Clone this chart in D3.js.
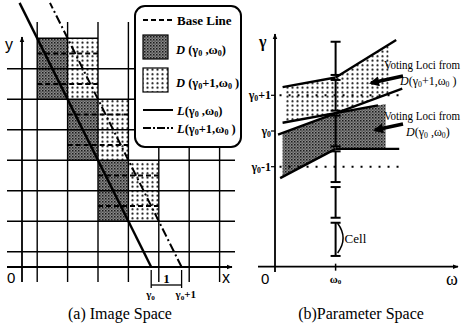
<!DOCTYPE html>
<html>
<head>
<meta charset="utf-8">
<script src="https://cdn.jsdelivr.net/npm/d3@7"></script>
<style>
  body { margin: 0; background: #fff; }
  svg { display: block; }
  text { font-family: "Liberation Serif", "DejaVu Serif", serif; }
  text.sans { font-family: "Liberation Sans", "DejaVu Sans", sans-serif; }
</style>
</head>
<body>
<svg id="chart" width="466" height="324"></svg>
<script>
// ---- (a) image space: grid in pixel units, cells centred on integers
const gridCols = [0.5, 1.5, 2.5, 3.5, 4.5, 5.5, 6.5];
const gridRows = [0.5, 1.5, 2.5, 3.5, 4.5, 5.5, 6.5];
const darkCells = [
  { c0: 0.5, c1: 1.5, r0: 5.5, r1: 7.5 },
  { c0: 1.5, c1: 2.5, r0: 3.5, r1: 5.5 },
  { c0: 2.5, c1: 3.5, r0: 1.5, r1: 3.5 }
];
const dotCells = [
  { c0: 1.5, c1: 2.5, r0: 5.5, r1: 7.5 },
  { c0: 2.5, c1: 3.5, r0: 3.5, r1: 5.5 },
  { c0: 3.5, c1: 4.5, r0: 1.5, r1: 3.5 }
];
const baseLines = [
  { c0: 0.5, c1: 2.5, r: 7 }, { c0: 0.5, c1: 2.5, r: 6 },
  { c0: 1.5, c1: 3.5, r: 5 }, { c0: 1.5, c1: 3.5, r: 4 },
  { c0: 2.5, c1: 4.5, r: 3 }, { c0: 2.5, c1: 4.5, r: 2 }
];
const gamma0 = 4.25;          // x-intercept of L(gamma0, omega0)
const lineRowSpan = [0, 8.66]; // rows the two lines are drawn over

// ---- (b) parameter space: gamma relative to gamma0, omega0 = 2
const omega0 = 2;
const cellBounds = [-3.5, -2.5, -1.5, -0.5, 0.5, 1.5, 2.5];
const gammaTicks = [1, 0, -1];
const gammaAxisAt = -3.8;
const lineA = [[0.25, 1.23], [2, 1.5]];
const lineB = [[2, 1.5], [4.0, 2.55]];
const lineC = [[0.25, 0.23], [3.4, 0.716]];
const lineD = [[0.1, -0.1], [4.2, 1.19]];
const lineE = [[0.17, -1.32], [2, -0.5]];
const lineF = [[2, -0.5], [4.1, -0.5]];

const svg = d3.select("#chart");

// patterns
const defs = svg.append("defs");
const pDark = defs.append("pattern").attr("id", "dark")
  .attr("width", 3).attr("height", 3).attr("patternUnits", "userSpaceOnUse");
pDark.append("rect").attr("width", 3).attr("height", 3).attr("fill", "#8a8a8a");
pDark.append("rect").attr("width", 1.5).attr("height", 1.5).attr("fill", "#1a1a1a");
pDark.append("rect").attr("x", 1.5).attr("y", 1.5).attr("width", 1.2).attr("height", 1.2).attr("fill", "#333");
const pDot = defs.append("pattern").attr("id", "dots")
  .attr("width", 5).attr("height", 4.5).attr("patternUnits", "userSpaceOnUse");
pDot.append("rect").attr("width", 5).attr("height", 4.5).attr("fill", "#fff");
pDot.append("circle").attr("cx", 2.5).attr("cy", 2.2).attr("r", 1.05).attr("fill", "#111");

const arrowHead = defs.append("marker").attr("id", "axArrow")
  .attr("viewBox", "0 0 10 10").attr("refX", 9).attr("refY", 5)
  .attr("markerWidth", 6).attr("markerHeight", 6).attr("markerUnits", "userSpaceOnUse")
  .attr("orient", "auto");
arrowHead.append("path").attr("d", "M0,1 L10,5 L0,9 Z").attr("fill", "#000");

const bigHead = defs.append("marker").attr("id", "bigArrow")
  .attr("viewBox", "0 0 10 10").attr("refX", 8).attr("refY", 5)
  .attr("markerWidth", 12).attr("markerHeight", 10).attr("markerUnits", "userSpaceOnUse")
  .attr("orient", "auto");
bigHead.append("path").attr("d", "M0,0 L10,5 L0,10 Z").attr("fill", "#000");

// ================= (a) =================
const x = d3.scaleLinear().domain([0, 1]).range([22, 52.4]);
const y = d3.scaleLinear().domain([0, 1]).range([267, 236.5]);
const left = svg.append("g");

left.selectAll(".dcell").data(darkCells).join("rect").classed("dcell", true)
  .attr("x", d => x(d.c0)).attr("y", d => y(d.r1))
  .attr("width", d => x(d.c1) - x(d.c0)).attr("height", d => y(d.r0) - y(d.r1))
  .attr("fill", "url(#dark)");
left.selectAll(".pcell").data(dotCells).join("rect").classed("pcell", true)
  .attr("x", d => x(d.c0)).attr("y", d => y(d.r1))
  .attr("width", d => x(d.c1) - x(d.c0)).attr("height", d => y(d.r0) - y(d.r1))
  .attr("fill", "url(#dots)");
// top edge of the rectangles
left.append("line").attr("x1", x(0.5)).attr("x2", x(2.5)).attr("y1", y(7.5)).attr("y2", y(7.5))
  .attr("stroke", "#000").attr("stroke-width", 1.6);

left.selectAll(".vgrid").data(gridCols).join("line").classed("vgrid", true)
  .attr("x1", d => x(d)).attr("x2", d => x(d)).attr("y1", 22).attr("y2", 282)
  .attr("stroke", "#000").attr("stroke-width", 1.4);
left.selectAll(".hgrid").data(gridRows).join("line").classed("hgrid", true)
  .attr("x1", 7).attr("x2", 235).attr("y1", d => y(d)).attr("y2", d => y(d))
  .attr("stroke", "#000").attr("stroke-width", 1.6);

left.selectAll(".base").data(baseLines).join("line").classed("base", true)
  .attr("x1", d => x(d.c0)).attr("x2", d => x(d.c1)).attr("y1", d => y(d.r)).attr("y2", d => y(d.r))
  .attr("stroke", "#000").attr("stroke-width", 2).attr("stroke-dasharray", "5,3");

// axes
left.append("line").attr("x1", 7).attr("x2", 232).attr("y1", y(0)).attr("y2", y(0))
  .attr("stroke", "#000").attr("stroke-width", 1.8).attr("marker-end", "url(#axArrow)");
left.append("line").attr("x1", x(0)).attr("x2", x(0)).attr("y1", 282).attr("y2", 37)
  .attr("stroke", "#000").attr("stroke-width", 1.8).attr("marker-end", "url(#axArrow)");

// L lines
const lineXY = d3.line().x(d => x(d[0])).y(d => y(d[1]));
const Lpts = g => lineRowSpan.map(r => [g - r / 2, r]);
left.append("path").attr("d", lineXY(Lpts(gamma0))).attr("stroke", "#000")
  .attr("stroke-width", 2.4).attr("fill", "none");
left.append("path").attr("d", lineXY(Lpts(gamma0 + 1))).attr("stroke", "#000")
  .attr("stroke-width", 2).attr("fill", "none").attr("stroke-dasharray", "9,3,2,3");

// labels
left.append("text").classed("sans", true).attr("x", 7).attr("y", 283).attr("font-size", 15).text("0");
left.append("text").classed("sans", true).attr("x", 222).attr("y", 283).attr("font-size", 16).text("x");
left.append("text").classed("sans", true).attr("x", 5).attr("y", 50).attr("font-size", 16).text("y");

// unit bracket under the axis
const br = left.append("g").attr("stroke", "#000").attr("stroke-width", 1.3);
[gamma0, gamma0 + 1].forEach(g => br.append("line").attr("x1", x(g)).attr("x2", x(g)).attr("y1", 270).attr("y2", 288));
br.append("line").attr("x1", x(gamma0)).attr("x2", x(gamma0 + 1)).attr("y1", 285).attr("y2", 285);
left.append("text").attr("x", x(gamma0 + 0.5)).attr("y", 283).attr("text-anchor", "middle")
  .attr("font-size", 13).attr("font-weight", "bold").text("1");
function gammaLabel(sel, xx, yy, suffix, size) {
  const t = sel.append("text").attr("x", xx).attr("y", yy).attr("font-size", size).attr("font-weight", "bold");
  t.append("tspan").text("γ");
  t.append("tspan").attr("font-size", size * 0.65).attr("dy", 2).text("0");
  if (suffix) t.append("tspan").attr("dy", -2).text(suffix);
  return t;
}
gammaLabel(left, x(gamma0) - 5, 298, "", 11);
gammaLabel(left, x(gamma0 + 1) - 6, 298, "+1", 11);
left.append("text").attr("x", 120).attr("y", 319).attr("text-anchor", "middle")
  .attr("font-size", 16).text("(a) Image Space");

// legend
const lg = svg.append("g");
lg.append("rect").attr("x", 135).attr("y", 6).attr("width", 106).attr("height", 141)
  .attr("rx", 10).attr("fill", "#fff").attr("stroke", "#000").attr("stroke-width", 2);
const legendItems = [
  { kind: "dash", y: 20 },
  { kind: "dark", y: 47 },
  { kind: "dots", y: 80 },
  { kind: "solid", y: 110 },
  { kind: "dashdot", y: 128 }
];
legendItems.forEach(it => {
  if (it.kind === "dark" || it.kind === "dots") {
    lg.append("rect").attr("x", 143).attr("y", it.y - 12).attr("width", 25).attr("height", 24)
      .attr("fill", `url(#${it.kind})`).attr("stroke", "#000").attr("stroke-width", 1.2);
  } else {
    const l = lg.append("line").attr("x1", 143).attr("x2", 173).attr("y1", it.y).attr("y2", it.y)
      .attr("stroke", "#000").attr("stroke-width", 2);
    if (it.kind === "dash") l.attr("stroke-dasharray", "5,3");
    if (it.kind === "dashdot") l.attr("stroke-dasharray", "8,2,2,2");
  }
});
function paramText(sel, xx, yy, letter, plus, size, spaced) {
  const t = sel.append("text").attr("x", xx).attr("y", yy).attr("font-size", size).attr("font-weight", "bold");
  t.append("tspan").attr("font-style", "italic").text(letter);
  t.append("tspan").text(spaced ? " (" : "(");
  t.append("tspan").text("γ");
  t.append("tspan").attr("font-size", size * 0.65).attr("dy", 2).text("0");
  t.append("tspan").attr("dy", -2).text(plus ? "+1," : " ,");
  t.append("tspan").text("ω");
  t.append("tspan").attr("font-size", size * 0.65).attr("dy", 2).text("0");
  t.append("tspan").attr("dy", -2).text(plus ? " )" : ")");
  return t;
}
lg.append("text").attr("x", 177).attr("y", 25).attr("font-size", 13).attr("font-weight", "bold").text("Base Line");
paramText(lg, 176, 54, "D", false, 12.5, true);
paramText(lg, 176, 87, "D", true, 12.5, true);
paramText(lg, 177, 115, "L", false, 12.5, false);
paramText(lg, 177, 133, "L", true, 12.5, false);

// ================= (b) =================
const w = d3.scaleLinear().domain([0, 1]).range([275, 305.3]);
const g = d3.scaleLinear().domain([0, 1]).range([131, 95.3]);
const right = svg.append("g");
const gAt = (ln, v) => ln[0][1] + (ln[1][1] - ln[0][1]) * (v - ln[0][0]) / (ln[1][0] - ln[0][0]);

const dotPoly = [[0.3, gAt(lineA, 0.3)], [omega0, 1.5], [3.75, gAt(lineB, 3.75)], [3.75, gAt(lineD, 3.75)],
  [omega0, 0.5], [0.3, gAt(lineC, 0.3)]];
const darkPoly = [[0.25, gAt(lineD, 0.25)], [omega0, 0.5], [3.65, gAt(lineC, 3.65)], [3.65, -0.5],
  [omega0, -0.5], [0.25, gAt(lineE, 0.25)]];
const poly = d3.line().x(d => w(d[0])).y(d => g(d[1]));
right.append("path").attr("d", poly(dotPoly) + "Z").attr("fill", "url(#dots)");
right.append("path").attr("d", poly(darkPoly) + "Z").attr("fill", "url(#dark)");

// dotted reference levels gamma0 +/- 1
right.selectAll(".lvl").data([1, -1]).join("line").classed("lvl", true)
  .attr("x1", w(0.15)).attr("x2", w(4.2)).attr("y1", d => g(d)).attr("y2", d => g(d))
  .attr("stroke", "#000").attr("stroke-width", 2).attr("stroke-dasharray", "2,7");

right.selectAll(".bnd").data([lineA, lineB, lineC, lineD, lineE, lineF]).join("path").classed("bnd", true)
  .attr("d", d => poly(d)).attr("fill", "none").attr("stroke", "#000").attr("stroke-width", 2.4);

// axes
right.append("line").attr("x1", 258).attr("x2", 458).attr("y1", g(gammaAxisAt)).attr("y2", g(gammaAxisAt))
  .attr("stroke", "#000").attr("stroke-width", 1.8).attr("marker-end", "url(#axArrow)");
right.append("line").attr("x1", w(0)).attr("x2", w(0)).attr("y1", 272).attr("y2", 34)
  .attr("stroke", "#000").attr("stroke-width", 1.8).attr("marker-end", "url(#axArrow)");
right.selectAll(".gt").data(gammaTicks).join("line").classed("gt", true)
  .attr("x1", w(0) - 4).attr("x2", w(0)).attr("y1", d => g(d)).attr("y2", d => g(d))
  .attr("stroke", "#000").attr("stroke-width", 1.2);
gammaTicks.forEach(t => {
  gammaLabel(right, 0, g(t) + 4, t > 0 ? "+1" : t < 0 ? "-1" : "", 12)
    .attr("text-anchor", "end").attr("x", w(0) - 4);
});
right.append("text").attr("x", w(0) - 16).attr("y", 47).attr("font-size", 16).attr("font-weight", "bold").text("γ");
right.append("text").classed("sans", true).attr("x", w(0) - 14).attr("y", 284).attr("font-size", 15).text("0");
right.append("text").attr("x", 446).attr("y", 285).attr("font-size", 18).text("ω");
const om = right.append("text").attr("x", w(omega0)).attr("y", 283).attr("text-anchor", "middle")
  .attr("font-size", 11).attr("font-weight", "bold");
om.append("tspan").text("ω");
om.append("tspan").attr("font-size", 7).attr("dy", 1).text("0");
right.append("line").attr("x1", w(omega0)).attr("x2", w(omega0)).attr("y1", g(gammaAxisAt) - 3).attr("y2", g(gammaAxisAt) + 4)
  .attr("stroke", "#000").attr("stroke-width", 1.5);

// cell bar at omega0
const bar = right.append("g").attr("stroke", "#000").attr("stroke-width", 2);
const segs = d3.pairs(cellBounds);
bar.selectAll(".seg").data(segs).join("line").classed("seg", true)
  .attr("x1", w(omega0)).attr("x2", w(omega0))
  .attr("y1", (d, i) => g(d[0]) - (i === 0 ? 0 : 2.5))
  .attr("y2", (d, i) => g(d[1]) + (i === segs.length - 1 ? 0 : 2.5));
bar.selectAll(".cap").data(cellBounds.flatMap((b, i) =>
  (i === 0 || i === cellBounds.length - 1) ? [g(b)] : [g(b) - 2.5, g(b) + 2.5]))
  .join("line").classed("cap", true)
  .attr("x1", w(omega0) - 5).attr("x2", w(omega0) + 5).attr("y1", d => d).attr("y2", d => d);
right.append("path")
  .attr("d", `M${w(omega0) + 2},${g(cellBounds[1]) + 3} Q${w(omega0) + 13},${(g(cellBounds[0]) + g(cellBounds[1])) / 2} ${w(omega0) + 2},${g(cellBounds[0]) - 3}`)
  .attr("fill", "none").attr("stroke", "#000").attr("stroke-width", 1.5);
right.append("text").attr("x", w(omega0) + 9).attr("y", 243).attr("font-size", 13).text("Cell");

// voting loci annotations
const notes = [
  { tx: 384, ty: 69, dx: 400, plus: true, from: [403, 76], to: [371, 83] },
  { tx: 384, ty: 120, dx: 406, plus: false, from: [403, 124], to: [375, 130] }
];
notes.forEach(n => {
  right.append("text").attr("x", n.tx).attr("y", n.ty).attr("font-size", 11.5)
    .attr("textLength", 76).attr("lengthAdjust", "spacingAndGlyphs").text("Voting Loci from");
  right.append("line").attr("x1", n.from[0]).attr("y1", n.from[1]).attr("x2", n.to[0]).attr("y2", n.to[1])
    .attr("stroke", "#000").attr("stroke-width", 3.5).attr("marker-end", "url(#bigArrow)");
  paramText(right, n.dx, n.ty + 16, "D", n.plus, 12, false).attr("font-weight", "normal");
});

right.append("text").attr("x", 361).attr("y", 319).attr("text-anchor", "middle")
  .attr("font-size", 16).text("(b)Parameter Space");
</script>
</body>
</html>
